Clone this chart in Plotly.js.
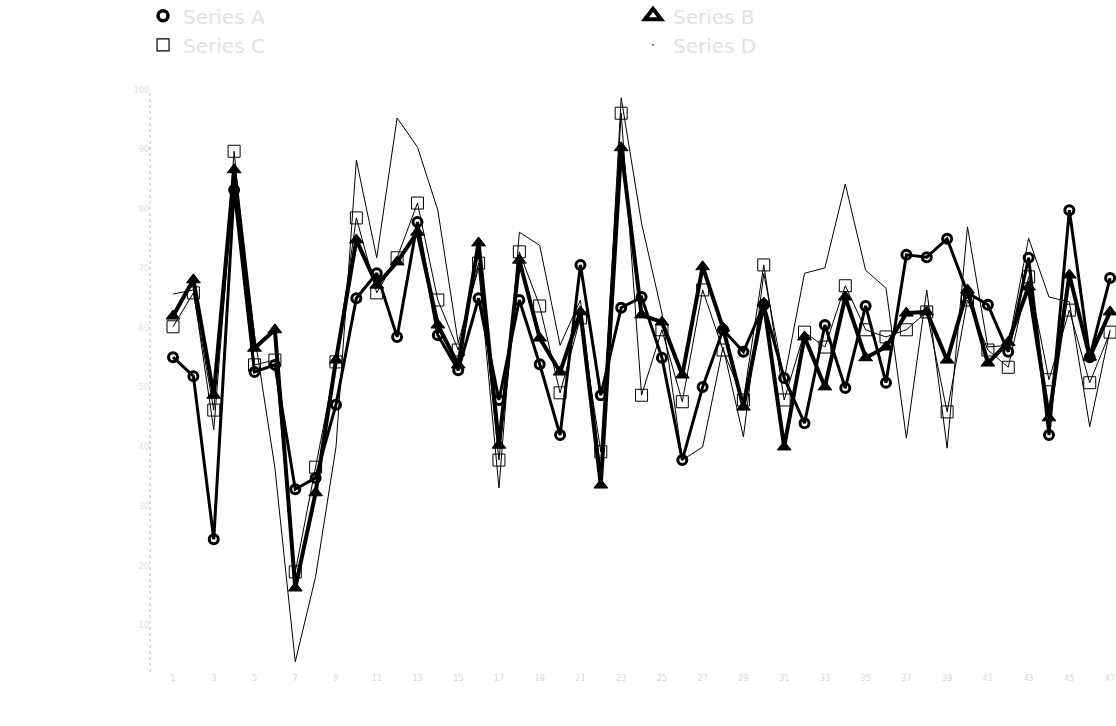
<!DOCTYPE html>
<html>
<head>
<meta charset="utf-8">
<script src="https://cdn.plot.ly/plotly-3.0.1.min.js"></script>
<style>html,body{margin:0;padding:0;background:#fff;}#chart{width:1116px;height:726px;}</style>
</head>
<body>
<div id="chart"></div>
<script>
// Category labels (unreadable in the reference; placeholder sequence)
const categories = ["1","2","3","4","5","6","7","8","9","10","11","12","13","14","15","16","17","18","19","20","21","22","23","24","25","26","27","28","29","30","31","32","33","34","35","36","37","38","39","40","41","42","43","44","45","46","47"];

const seriesNames = ["Series A", "Series B", "Series C", "Series D"];

const circleValues = [55.1,51.9,24.5,83.2,52.6,53.8,32.9,34.8,47.1,65.0,69.2,58.5,77.8,58.8,52.9,65.0,47.9,64.7,53.9,42.0,70.6,48.7,63.4,65.2,55.0,37.8,50.1,59.7,56.0,63.9,51.6,44.0,60.5,49.9,63.7,50.8,72.3,71.9,75.0,65.9,63.9,56.0,71.8,42.0,79.8,55.1,68.4];

const triangleValues = [62.0,68.1,48.7,86.6,56.6,59.7,16.3,32.3,54.6,74.8,67.2,71.1,76.1,60.5,53.8,74.3,40.3,71.4,58.3,52.6,62.7,33.6,90.3,62.2,61.0,52.1,70.3,60.0,46.7,64.2,40.0,58.5,50.1,65.2,55.0,56.8,62.5,62.7,54.6,66.4,54.1,57.6,66.9,44.9,68.9,55.1,62.7];

const squareValues = [60.2,65.9,46.2,89.7,53.8,54.6,19.0,36.6,54.3,78.5,65.9,71.8,81.0,64.7,56.3,70.9,37.8,72.8,63.7,49.1,61.7,39.2,96.1,48.7,59.7,47.6,66.4,56.3,47.9,70.6,47.9,59.3,56.8,67.1,59.7,58.5,59.7,62.7,45.9,64.7,56.3,53.4,68.6,51.3,63.0,50.8,59.3];

const thinValues = [65.7,66.4,42.9,85.7,58.8,36.5,3.9,18.2,40.0,88.2,71.8,95.3,90.4,79.8,57.5,70.1,33.1,76.1,73.9,57.1,64.7,36.1,98.7,77.6,62.5,37.8,40.0,56.8,41.7,69.2,51.3,69.2,70.1,84.2,69.7,66.7,41.5,66.4,39.8,77.0,56.8,57.1,75.1,65.2,64.4,43.4,59.7];

const xIdx = categories.map((c, i) => i);

const traces = [
  {
    x: xIdx, y: circleValues, name: seriesNames[0], mode: "lines+markers", showlegend: false,
    line: {color: "#000", width: 3},
    marker: {symbol: "circle-open", size: 9, color: "#000", line: {color: "#000", width: 3}}
  },
  {
    x: xIdx, y: triangleValues, name: seriesNames[1], mode: "lines+markers", showlegend: false,
    line: {color: "#000", width: 4},
    marker: {symbol: "triangle-up", size: 12, color: "#000", line: {color: "#000", width: 1}}
  },
  {
    x: xIdx, y: squareValues, name: seriesNames[2], mode: "lines+markers", showlegend: false,
    line: {color: "#000", width: 1},
    marker: {symbol: "square-open", size: 12, color: "#000", line: {color: "#000", width: 1}}
  },
  {
    x: xIdx, y: thinValues, name: seriesNames[3], mode: "lines", showlegend: false,
    line: {color: "#000", width: 1}
  },
  // legend entries (marker-only keys, as in the reference legend)
  {
    x: [null], y: [null], name: seriesNames[0], mode: "markers", legend: "legend",
    marker: {symbol: "circle-open", size: 10, color: "#000", line: {color: "#000", width: 3.5}}
  },
  {
    x: [null], y: [null], name: seriesNames[2], mode: "markers", legend: "legend",
    marker: {symbol: "square-open", size: 12, color: "#000", line: {color: "#000", width: 1.2}}
  },
  {
    x: [null], y: [null], name: seriesNames[1], mode: "markers", legend: "legend2",
    marker: {symbol: "triangle-up-open", size: 14, color: "#000", line: {color: "#000", width: 4}}
  },
  {
    x: [null], y: [null], name: seriesNames[3], mode: "markers", legend: "legend2",
    marker: {symbol: "circle", size: 2, color: "#555"}
  }
];

const faint = "#cfcfcf";

const legendCommon = {
  orientation: "v", xanchor: "left", yanchor: "top", y: 1.161,
  font: {size: 20, color: "#e2e2e2"}, bgcolor: "rgba(0,0,0,0)", traceorder: "normal",
  itemclick: false
};

const layout = {
  width: 1116, height: 726,
  paper_bgcolor: "#fff", plot_bgcolor: "#fff",
  font: {family: "DejaVu Sans", size: 10, color: faint},
  margin: {l: 150, r: 0, t: 90, b: 54, autoexpand: false},
  showlegend: true,
  legend: Object.assign({}, legendCommon, {x: -0.0072}),
  legend2: Object.assign({}, legendCommon, {x: 0.5}),
  xaxis: {
    range: [-1.13, 46.29], showgrid: false, zeroline: false, showline: false,
    tickmode: "array", tickvals: xIdx.filter(i => i % 2 === 0),
    ticktext: categories.filter((c, i) => i % 2 === 0),
    ticks: "", tickfont: {size: 8, color: "#d8d8d8"}
  },
  yaxis: {
    range: [2.18, 100], showgrid: false, zeroline: false, showline: false,
    ticks: "", tickfont: {size: 8, color: "#e0e0e0"}
  },
  shapes: [
    {type: "line", xref: "paper", yref: "paper", x0: 0, x1: 0, y0: 0, y1: 1,
     line: {color: "#bbb", width: 1, dash: "dot"}}
  ]
};

Plotly.newPlot("chart", traces, layout, {displayModeBar: false, staticPlot: true});
</script>
</body>
</html>
